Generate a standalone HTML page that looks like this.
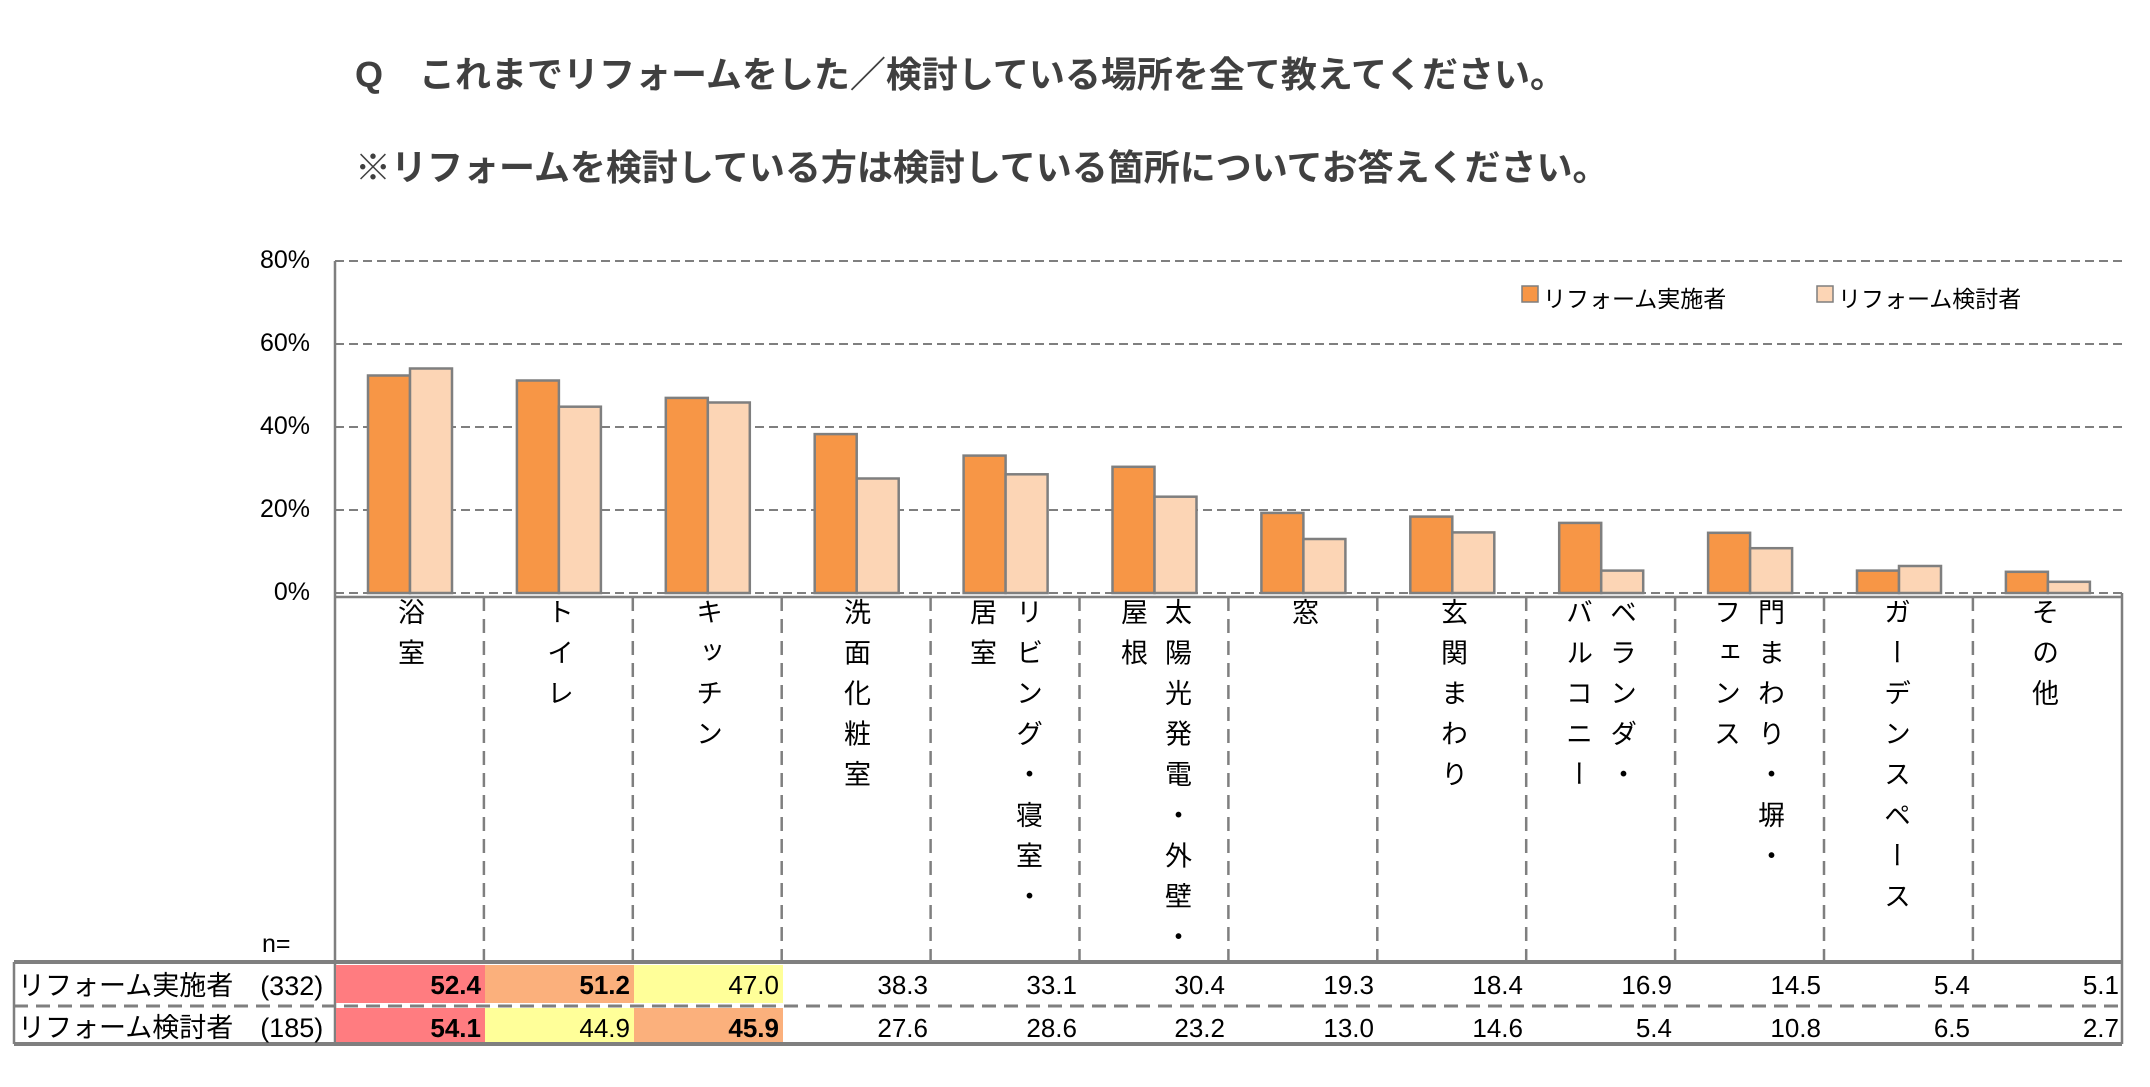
<!DOCTYPE html>
<html><head><meta charset="utf-8"><style>
body{margin:0;background:#fff;width:2150px;height:1087px;position:relative;overflow:hidden;font-family:"Liberation Sans","Noto Sans CJK JP",sans-serif;color:#000}
.t{position:absolute;white-space:nowrap}
.title{font-weight:bold;font-size:36px;color:#404040;left:355px}
.yl{right:1840px;font-size:25px;text-align:right}
.v{position:absolute;top:598px;writing-mode:vertical-rl;font-size:27px;letter-spacing:13.6px;line-height:30px;transform:translateX(-15px)}
.cell{position:absolute;height:38px;line-height:40px;font-size:26px;text-align:right;box-sizing:border-box;padding-right:4px;width:149px}
.b{font-weight:bold}
</style></head><body>
<div class="t title" style="top:46px">Q　これまでリフォームをした／検討している場所を全て教えてください。</div>
<div class="t title" style="top:139px">※リフォームを検討している方は検討している箇所についてお答えください。</div>

<svg width="2150" height="1087" style="position:absolute;left:0;top:0">
<g stroke="#7f7f7f" stroke-width="2" stroke-dasharray="9,5">
<line x1="335" y1="261" x2="2122" y2="261"/>
<line x1="335" y1="344" x2="2122" y2="344"/>
<line x1="335" y1="427" x2="2122" y2="427"/>
<line x1="335" y1="510" x2="2122" y2="510"/>
<line x1="335" y1="593" x2="2122" y2="593"/>
</g>
<g stroke="#7f7f7f" stroke-width="2.5">
<line x1="335" y1="261" x2="335" y2="1044"/>
<line x1="2122" y1="593" x2="2122" y2="1044"/>
<line x1="335" y1="597" x2="2122" y2="597"/>
</g>
<g stroke="#7f7f7f" stroke-width="2.5" stroke-dasharray="14,8">
<line x1="483.9" y1="597" x2="483.9" y2="962"/>
<line x1="632.8" y1="597" x2="632.8" y2="962"/>
<line x1="781.7" y1="597" x2="781.7" y2="962"/>
<line x1="930.6" y1="597" x2="930.6" y2="962"/>
<line x1="1079.5" y1="597" x2="1079.5" y2="962"/>
<line x1="1228.4" y1="597" x2="1228.4" y2="962"/>
<line x1="1377.3" y1="597" x2="1377.3" y2="962"/>
<line x1="1526.2" y1="597" x2="1526.2" y2="962"/>
<line x1="1675.1" y1="597" x2="1675.1" y2="962"/>
<line x1="1824" y1="597" x2="1824" y2="962"/>
<line x1="1972.9" y1="597" x2="1972.9" y2="962"/>
</g>
<g stroke="#7f7f7f" stroke-width="2.5">
<g fill="#f79646">
<rect x="368" y="375.5" width="42" height="217.5"/>
<rect x="516.9" y="380.5" width="42" height="212.5"/>
<rect x="665.8" y="397.9" width="42" height="195.1"/>
<rect x="814.7" y="434.1" width="42" height="158.9"/>
<rect x="963.6" y="455.6" width="42" height="137.4"/>
<rect x="1112.5" y="466.8" width="42" height="126.2"/>
<rect x="1261.4" y="512.9" width="42" height="80.1"/>
<rect x="1410.3" y="516.6" width="42" height="76.4"/>
<rect x="1559.2" y="522.9" width="42" height="70.1"/>
<rect x="1708.1" y="532.8" width="42" height="60.2"/>
<rect x="1857" y="570.6" width="42" height="22.4"/>
<rect x="2005.9" y="571.8" width="42" height="21.2"/>
</g>
<g fill="#fcd5b5">
<rect x="410" y="368.5" width="42" height="224.5"/>
<rect x="558.9" y="406.7" width="42" height="186.3"/>
<rect x="707.8" y="402.5" width="42" height="190.5"/>
<rect x="856.7" y="478.5" width="42" height="114.5"/>
<rect x="1005.6" y="474.3" width="42" height="118.7"/>
<rect x="1154.5" y="496.7" width="42" height="96.3"/>
<rect x="1303.4" y="539" width="42" height="54"/>
<rect x="1452.3" y="532.4" width="42" height="60.6"/>
<rect x="1601.2" y="570.6" width="42" height="22.4"/>
<rect x="1750.1" y="548.2" width="42" height="44.8"/>
<rect x="1899" y="566" width="42" height="27"/>
<rect x="2047.9" y="581.8" width="42" height="11.2"/>
</g>
<rect x="1522" y="286" width="16" height="16" fill="#f79646" stroke-width="1.5"/>
<rect x="1817" y="286" width="16" height="16" fill="#fcd5b5" stroke-width="1.5"/>
</g>
<g stroke="#7f7f7f">
<line x1="14" y1="962" x2="2122" y2="962" stroke-width="4"/>
<line x1="14" y1="1044" x2="2122" y2="1044" stroke-width="4"/>
<line x1="14" y1="1006" x2="2122" y2="1006" stroke-width="3" stroke-dasharray="14,8"/>
<line x1="14" y1="962" x2="14" y2="1044" stroke-width="2.5"/>
</g>
</svg>

<div class="t" style="left:1543px;top:280px;font-size:23px">リフォーム実施者</div>
<div class="t" style="left:1838px;top:280px;font-size:23px">リフォーム検討者</div>

<div class="t yl" style="top:246px">80%</div>
<div class="t yl" style="top:329px">60%</div>
<div class="t yl" style="top:412px">40%</div>
<div class="t yl" style="top:495px">20%</div>
<div class="t yl" style="top:578px">0%</div>

<div class="v" style="left:409px">浴室</div>
<div class="v" style="left:558px">トイレ</div>
<div class="v" style="left:707px">キッチン</div>
<div class="v" style="left:855px">洗面化粧室</div>
<div class="v" style="left:1027px">リビング・寝室・</div>
<div class="v" style="left:981px">居室</div>
<div class="v" style="left:1176px">太陽光発電・外壁・</div>
<div class="v" style="left:1132px">屋根</div>
<div class="v" style="left:1303px">窓</div>
<div class="v" style="left:1452px">玄関まわり</div>
<div class="v" style="left:1621px">ベランダ・</div>
<div class="v" style="left:1577px">バルコニー</div>
<div class="v" style="left:1769px">門まわり・塀・</div>
<div class="v" style="left:1725px">フェンス</div>
<div class="v" style="left:1895px">ガーデンスペース</div>
<div class="v" style="left:2043px">その他</div>

<div class="t" style="left:262px;top:930px;font-size:25px">n=</div>
<div class="t" style="left:18px;top:964px;font-size:27px">リフォーム実施者　(332)</div>
<div class="t" style="left:18px;top:1006px;font-size:27px">リフォーム検討者　(185)</div>

<div class="cell b" style="left:336px;top:965px;background:#ff7c80">52.4</div>
<div class="cell b" style="left:485px;top:965px;background:#fbb07c">51.2</div>
<div class="cell" style="left:634px;top:965px;background:#ffff99">47.0</div>
<div class="cell" style="left:783px;top:965px">38.3</div>
<div class="cell" style="left:932px;top:965px">33.1</div>
<div class="cell" style="left:1080px;top:965px">30.4</div>
<div class="cell" style="left:1229px;top:965px">19.3</div>
<div class="cell" style="left:1378px;top:965px">18.4</div>
<div class="cell" style="left:1527px;top:965px">16.9</div>
<div class="cell" style="left:1676px;top:965px">14.5</div>
<div class="cell" style="left:1825px;top:965px">5.4</div>
<div class="cell" style="left:1974px;top:965px">5.1</div>

<div class="cell b" style="left:336px;top:1008px;background:#ff7c80;height:34px">54.1</div>
<div class="cell" style="left:485px;top:1008px;background:#ffff99;height:34px">44.9</div>
<div class="cell b" style="left:634px;top:1008px;background:#fbb07c;height:34px">45.9</div>
<div class="cell" style="left:783px;top:1008px">27.6</div>
<div class="cell" style="left:932px;top:1008px">28.6</div>
<div class="cell" style="left:1080px;top:1008px">23.2</div>
<div class="cell" style="left:1229px;top:1008px">13.0</div>
<div class="cell" style="left:1378px;top:1008px">14.6</div>
<div class="cell" style="left:1527px;top:1008px">5.4</div>
<div class="cell" style="left:1676px;top:1008px">10.8</div>
<div class="cell" style="left:1825px;top:1008px">6.5</div>
<div class="cell" style="left:1974px;top:1008px">2.7</div>
</body></html>
